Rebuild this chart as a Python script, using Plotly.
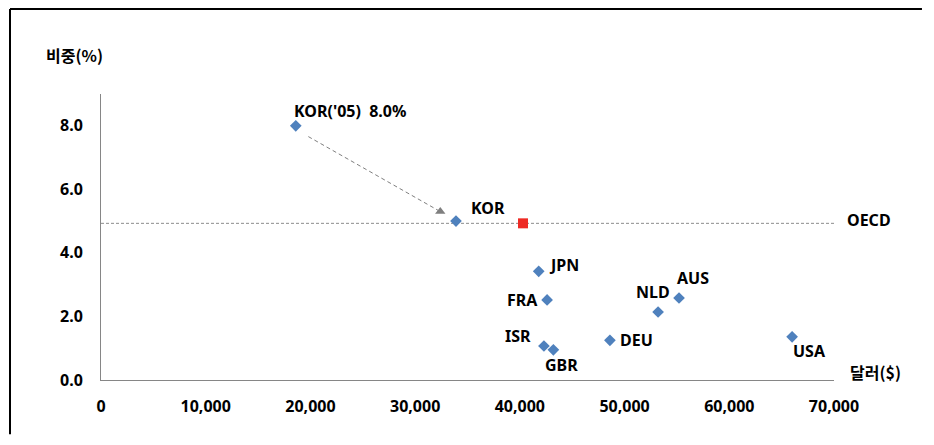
import plotly.graph_objects as go

# ---- data ----
countries = ["KOR('05)  8.0%", "KOR", "JPN", "FRA", "NLD", "AUS", "ISR", "GBR", "DEU", "USA"]
gdp_usd = [18600, 33900, 41800, 42600, 53200, 55200, 42300, 43200, 48600, 66000]
share_pct = [8.0, 5.0, 3.42, 2.52, 2.14, 2.58, 1.07, 0.95, 1.25, 1.36]

oecd_gdp = [40300]
oecd_share = [4.93]

arrow_x = [19800, 32400]
arrow_y = [7.66, 5.30]

x_ticks = [0, 10000, 20000, 30000, 40000, 50000, 60000, 70000]
y_ticks = [0, 2, 4, 6, 8]

# label offsets (pixels) and anchors, style only
label_style = {
    "KOR('05)  8.0%": (-4, 15, "left"),
    "KOR": (13, 13, "left"),
    "JPN": (8, 6, "left"),
    "FRA": (-7, 0, "right"),
    "NLD": (-5, 20, "center"),
    "AUS": (14, 20, "center"),
    "ISR": (-11, 10, "right"),
    "GBR": (8, -15, "center"),
    "DEU": (8, 0, "left"),
    "USA": (17, -14, "center"),
}

FONT = "Noto Sans, Noto Sans CJK KR, sans-serif"
KFONT = "Noto Sans CJK KR, Noto Sans, sans-serif"
TXT = dict(family=FONT, size=16, color="#000000", weight="bold")
KTXT = dict(family=KFONT, size=16, color="#000000", weight="bold")

fig = go.Figure()

# OECD dashed reference line
fig.add_shape(type="line", xref="x", yref="y", x0=0, x1=70000,
              y0=oecd_share[0], y1=oecd_share[0],
              line=dict(color="#8c8c8c", width=1, dash="3px,2px"), layer="below")

# dashed arrow line
fig.add_trace(go.Scatter(x=arrow_x, y=arrow_y, mode="lines",
                         line=dict(color="#7f7f7f", width=1, dash="4px,3px"),
                         hoverinfo="skip", showlegend=False))
fig.add_trace(go.Scatter(x=[arrow_x[1]], y=[arrow_y[1]], mode="markers",
                         marker=dict(symbol="triangle-up", size=9, color="#7f7f7f"),
                         hoverinfo="skip", showlegend=False))

# country points
fig.add_trace(go.Scatter(x=gdp_usd, y=share_pct, mode="markers",
                         marker=dict(symbol="diamond", size=9, color="#4F81BD"),
                         showlegend=False))
# OECD point
fig.add_trace(go.Scatter(x=oecd_gdp, y=oecd_share, mode="markers",
                         marker=dict(symbol="square", size=10, color="#EE2A24"),
                         showlegend=False))

for name, gx, sy in zip(countries, gdp_usd, share_pct):
    dx, dy, anchor = label_style[name]
    fig.add_annotation(x=gx, y=sy, xref="x", yref="y", text=name, showarrow=False,
                       xshift=dx, yshift=dy, xanchor=anchor, yanchor="middle", font=TXT)

fig.add_annotation(x=70000, y=oecd_share[0], xref="x", yref="y", text="OECD",
                   showarrow=False, xshift=11, yshift=3, xanchor="left",
                   yanchor="middle", font=TXT)
fig.add_annotation(x=70000, y=0, xref="x", yref="y", text="달러($)",
                   showarrow=False, xshift=14, yshift=8, xanchor="left",
                   yanchor="middle", font=KTXT)
fig.add_annotation(x=0, y=1, xref="paper", yref="paper", text="비중(%)",
                   showarrow=False, xshift=-57, yshift=39, xanchor="left",
                   yanchor="middle", font=KTXT)

# outer frame: top and left edges only, kept inside the figure area
FX0 = -91.0 / 733
FY1 = (286 + 85.0) / 286
fig.add_shape(type="line", xref="paper", yref="paper", x0=FX0, x1=1.12, y0=FY1, y1=FY1,
              line=dict(color="#000000", width=2))
fig.add_shape(type="line", xref="paper", yref="paper", x0=FX0, x1=FX0, y0=-0.19, y1=FY1,
              line=dict(color="#000000", width=2))

fig.update_layout(
    width=918, height=429,
    margin=dict(l=93, r=92, t=86, b=57),
    paper_bgcolor="white", plot_bgcolor="white",
    xaxis=dict(range=[0, 70000], tickvals=x_ticks, tickformat=",d",
               showgrid=False, zeroline=False, showline=True,
               linecolor="#868686", linewidth=1, ticks="",
               ticklabelstandoff=12, tickfont=TXT),
    yaxis=dict(range=[0, 9], tickvals=y_ticks, tickformat=".1f",
               showgrid=False, zeroline=False, showline=True,
               linecolor="#868686", linewidth=1, ticks="",
               ticklabelstandoff=14, tickfont=TXT),
)

fig.write_html("out.html")
